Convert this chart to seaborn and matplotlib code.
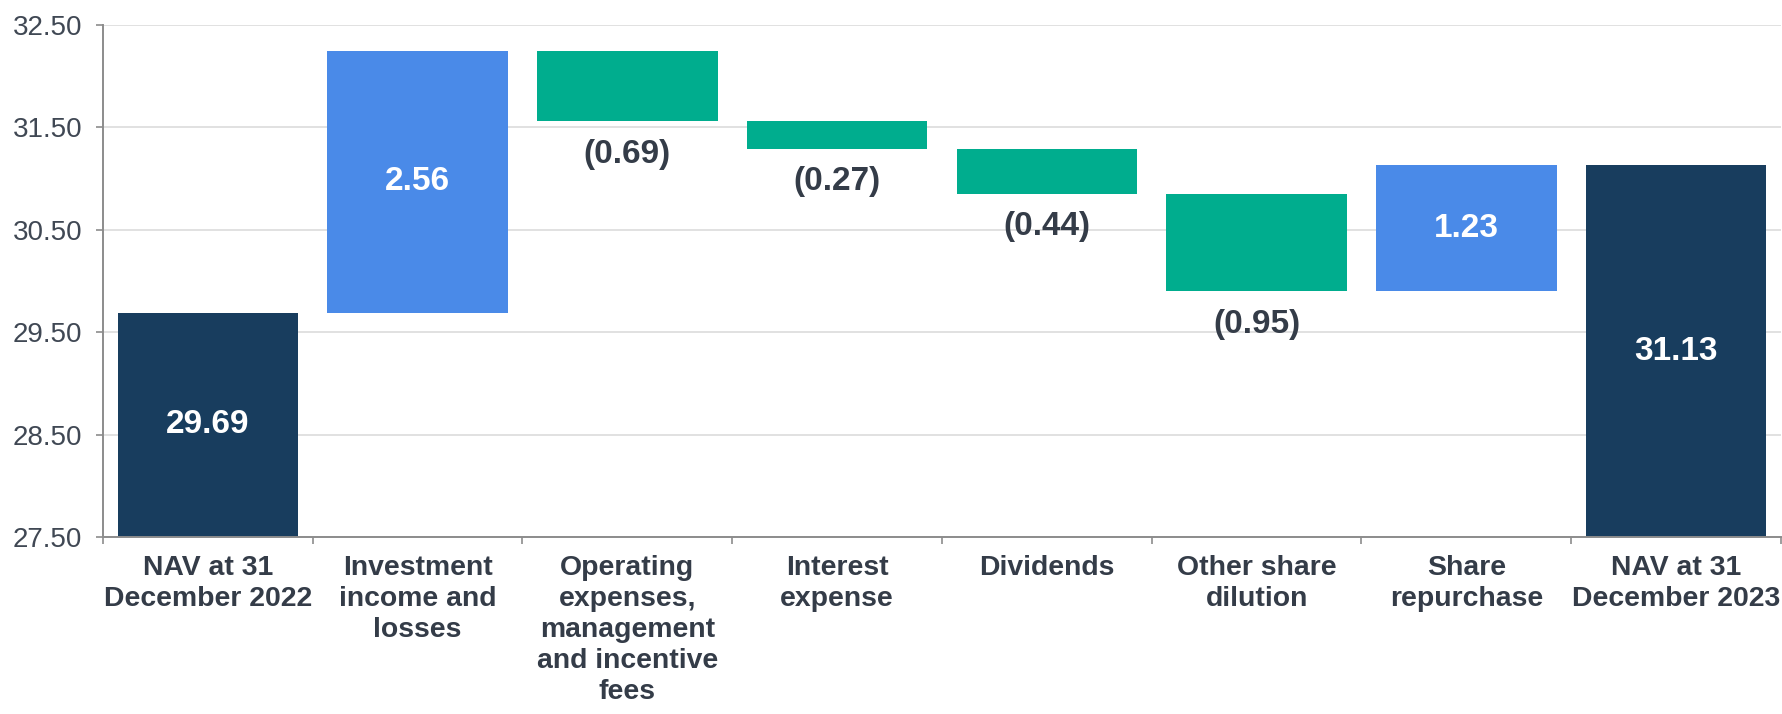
import numpy as np
import pandas as pd
import matplotlib
matplotlib.use("Agg")
import matplotlib.pyplot as plt
import seaborn as sns
from matplotlib.ticker import FixedLocator, FormatStrFormatter

# ---- data ----
categories = [
    "NAV at 31\nDecember 2022",
    "Investment\nincome and\nlosses",
    "Operating\nexpenses,\nmanagement\nand incentive\nfees",
    "Interest\nexpense",
    "Dividends",
    "Other share\ndilution",
    "Share\nrepurchase",
    "NAV at 31\nDecember 2023",
]
start_value = 29.69
changes = [2.56, -0.69, -0.27, -0.44, -0.95, 1.23]
end_value = 31.13
kinds = ["total", "increase", "decrease", "decrease", "decrease", "decrease", "increase", "total"]
value_labels = ["29.69", "2.56", "(0.69)", "(0.27)", "(0.44)", "(0.95)", "1.23", "31.13"]
y_ticks = [27.5, 28.5, 29.5, 30.5, 31.5, 32.5]
y_min, y_max = 27.5, 32.5

colors = {"total": "#183D5E", "increase": "#4A8AE8", "decrease": "#00AD8E"}
text_dark = "#343C48"

sns.set_theme(style="white")
plt.rcParams["font.family"] = ["Liberation Sans", "DejaVu Sans"]

# ---- waterfall geometry from data ----
levels = np.concatenate([[start_value], start_value + np.cumsum(changes)])
bottoms = [y_min]
tops = [start_value]
for i in range(len(changes)):
    a, b = levels[i], levels[i + 1]
    bottoms.append(min(a, b))
    tops.append(max(a, b))
bottoms.append(y_min)
tops.append(end_value)
bottoms = np.array(bottoms)
tops = np.array(tops)
heights = tops - bottoms

df = pd.DataFrame({"category": categories, "height": heights, "kind": kinds})

W, H = 1783, 714
fig = plt.figure(figsize=(W / 100, H / 100), dpi=100)
ax = fig.add_axes([103 / W, 1 - 537 / H, (1781 - 103) / W, (537 - 25) / H])

sns.barplot(
    data=df, x="category", y="height", hue="category",
    order=categories, hue_order=categories,
    palette=[colors[k] for k in kinds], legend=False,
    width=0.86, saturation=1, dodge=False, linewidth=0, ax=ax,
)
for p, b in zip(ax.patches, bottoms):
    p.set_y(b)

ax.set_ylim(y_min, y_max)
ax.set_xlim(-0.5, len(categories) - 0.5)
ax.set_xlabel("")
ax.set_ylabel("")

# grid & spines
ax.set_axisbelow(True)
ax.yaxis.grid(True, color="#D9D9D9", linewidth=1.1)
ax.xaxis.grid(False)
for s in ["top", "right"]:
    ax.spines[s].set_visible(False)
for s in ["left", "bottom"]:
    ax.spines[s].set_color("#8C8C8C")
    ax.spines[s].set_linewidth(1.4)

# y ticks
ax.yaxis.set_major_locator(FixedLocator(y_ticks))
ax.yaxis.set_major_formatter(FormatStrFormatter("%.2f"))
ax.tick_params(axis="y", which="major", left=True, length=5, width=1.2,
               color="#8C8C8C", pad=10, labelsize=20, labelcolor="#404854")

# x ticks: labels at categories, marks at boundaries
ax.set_xticks(range(len(categories)))
ax.set_xticklabels(categories)
ax.xaxis.set_minor_locator(FixedLocator(np.arange(-0.5, len(categories), 1.0)))
ax.tick_params(axis="x", which="major", bottom=True, length=0, pad=13,
               labelsize=20.4, labelcolor=text_dark)
ax.tick_params(axis="x", which="minor", bottom=True, length=5, width=1.2, color="#8C8C8C")
for lab in ax.get_xticklabels():
    lab.set_fontweight("bold")
    lab.set_linespacing(1.25)

# value labels
for i, (lab, k) in enumerate(zip(value_labels, kinds)):
    if k == "decrease":
        ax.annotate(lab, xy=(i, bottoms[i]), xytext=(0, -33), textcoords="offset pixels",
                    ha="center", va="center", fontsize=24, fontweight="bold", color=text_dark)
    else:
        ax.text(i, (bottoms[i] + tops[i]) / 2, lab, ha="center", va="center",
                fontsize=24, fontweight="bold", color="white")

fig.savefig("out.png", dpi=100)
